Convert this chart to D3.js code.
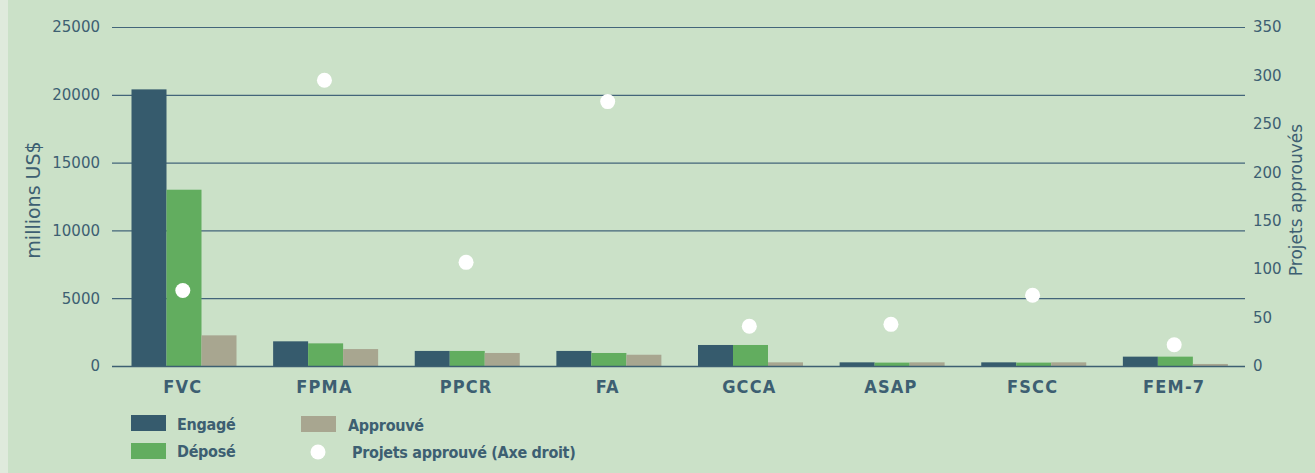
<!DOCTYPE html>
<html>
<head>
<meta charset="utf-8">
<script src="https://cdn.jsdelivr.net/npm/d3@7"></script>
<style>
  body { margin: 0; background: #dfeadc; }
  svg { display: block; }
  .tick text { font-family: "DejaVu Sans", sans-serif; font-size: 15px; fill: #3d5f72; }
  .cat text { font-family: "DejaVu Sans Condensed", "DejaVu Sans", sans-serif; font-stretch: condensed; font-weight: bold; font-size: 18px; letter-spacing: 1.2px; fill: #3d5f72; }
  .legend text { font-family: "DejaVu Sans Condensed", "DejaVu Sans", sans-serif; font-stretch: condensed; font-weight: bold; font-size: 16px; letter-spacing: -0.3px; fill: #3d5f72; }
</style>
</head>
<body>
<div class="chart"></div>
<script>
var svgWidth = 1315;
var svgHeight = 473;

// data
var categories = ["FVC", "FPMA", "PPCR", "FA", "GCCA", "ASAP", "FSCC", "FEM-7"];
var engage = [20400, 1820, 1110, 1110, 1550, 270, 270, 690];
var depose = [13000, 1670, 1110, 960, 1550, 250, 250, 690];
var approuve = [2260, 1250, 960, 830, 270, 270, 270, 150];
var projets = [78, 295, 107, 273, 41, 43, 73, 22];
var leftTicks = [0, 5000, 10000, 15000, 20000, 25000];
var rightTicks = [0, 50, 100, 150, 200, 250, 300, 350];

var seriesNames = ["Engagé", "Déposé", "Approuvé"];
var seriesColors = ["#365b6d", "#62ad5f", "#a8a690"];

var margin = { top: 27, left: 112, right: 70, bottom: 107 };
var width = svgWidth - margin.left - margin.right;
var height = svgHeight - margin.top - margin.bottom;

var svg = d3.select(".chart")
  .append("svg")
  .attr("width", svgWidth)
  .attr("height", svgHeight);

// background panel
svg.append("rect")
  .attr("x", 8)
  .attr("y", 0)
  .attr("width", svgWidth - 8)
  .attr("height", svgHeight)
  .attr("fill", "#cbe1c8");

var chartGroup = svg.append("g")
  .attr("transform", `translate(${margin.left}, ${margin.top})`);

var xScale = d3.scaleBand()
  .domain(categories)
  .range([0, width])
  .padding(0);

var xInner = d3.scaleBand()
  .domain(seriesNames)
  .range([19.5, 124.5])
  .padding(0);

var yLeft = d3.scaleLinear()
  .domain([0, 25000])
  .range([height, 0]);

var yRight = d3.scaleLinear()
  .domain([0, 350])
  .range([height, 0]);

// grid lines from left axis
chartGroup.append("g")
  .selectAll("line")
  .data(leftTicks)
  .enter()
  .append("line")
  .attr("x1", 0)
  .attr("x2", width)
  .attr("y1", d => yLeft(d) + 0.5)
  .attr("y2", d => yLeft(d) + 0.5)
  .attr("stroke", "#43657a")
  .attr("stroke-width", 1.2);

// left axis
var leftAxis = d3.axisLeft(yLeft).tickValues(leftTicks).tickFormat(d3.format("d")).tickSize(0).tickPadding(12);
chartGroup.append("g")
  .call(leftAxis)
  .call(g => g.select(".domain").remove());

// right axis
var rightAxis = d3.axisRight(yRight).tickValues(rightTicks).tickFormat(d3.format("d")).tickSize(0).tickPadding(8);
chartGroup.append("g")
  .attr("transform", `translate(${width}, 0)`)
  .call(rightAxis)
  .call(g => g.select(".domain").remove());

// bars
var table = categories.map((c, i) => ({
  cat: c,
  vals: [engage[i], depose[i], approuve[i]]
}));

var groups = chartGroup.selectAll(".grp")
  .data(table)
  .enter()
  .append("g")
  .attr("transform", d => `translate(${xScale(d.cat)}, 0)`);

groups.selectAll("rect")
  .data(d => d.vals.map((v, j) => ({ name: seriesNames[j], v: v, color: seriesColors[j] })))
  .enter()
  .append("rect")
  .attr("x", d => xInner(d.name))
  .attr("width", xInner.bandwidth())
  .attr("y", d => yLeft(d.v))
  .attr("height", d => height - yLeft(d.v))
  .attr("fill", d => d.color);

// baseline over bars
chartGroup.append("line")
  .attr("x1", 0)
  .attr("x2", width)
  .attr("y1", height + 0.5)
  .attr("y2", height + 0.5)
  .attr("stroke", "#3d5f72")
  .attr("stroke-width", 1.5);

// dots on right axis
chartGroup.selectAll(".dot")
  .data(projets)
  .enter()
  .append("circle")
  .attr("cx", (d, i) => xScale(categories[i]) + xScale.bandwidth() / 2)
  .attr("cy", d => yRight(d))
  .attr("r", 7.5)
  .attr("fill", "#ffffff");

// category labels
var bottomAxis = d3.axisBottom(xScale).tickSize(0).tickPadding(14);
chartGroup.append("g")
  .attr("class", "cat")
  .attr("transform", `translate(0, ${height})`)
  .call(bottomAxis)
  .call(g => g.select(".domain").remove())
  .selectAll("text")
  .attr("class", null);

chartGroup.select(".cat").attr("font-size", null).attr("font-family", null);

// axis titles
svg.append("text")
  .attr("transform", "translate(40, 200) rotate(-90)")
  .attr("text-anchor", "middle")
  .attr("font-family", "DejaVu Sans, sans-serif")
  .attr("font-size", 19)
  .attr("fill", "#3d5f72")
  .text("millions US$");

svg.append("text")
  .attr("transform", "translate(1302, 200) rotate(-90)")
  .attr("text-anchor", "middle")
  .attr("font-family", "DejaVu Sans, sans-serif")
  .attr("font-size", 17)
  .attr("fill", "#3d5f72")
  .text("Projets approuvés");

// legend
var legend = svg.append("g").attr("class", "legend");
var legendItems = [
  { label: "Engagé", color: seriesColors[0], x: 131, y: 415, tx: 177, ty: 430 },
  { label: "Déposé", color: seriesColors[1], x: 131, y: 443, tx: 177, ty: 457 },
  { label: "Approuvé", color: seriesColors[2], x: 301, y: 416, tx: 348, ty: 431 }
];
legendItems.forEach(function(d) {
  legend.append("rect")
    .attr("x", d.x).attr("y", d.y)
    .attr("width", 35).attr("height", 16)
    .attr("fill", d.color);
  legend.append("text")
    .attr("x", d.tx).attr("y", d.ty)
    .text(d.label);
});
legend.append("circle")
  .attr("cx", 318).attr("cy", 452).attr("r", 7.5)
  .attr("fill", "#ffffff");
legend.append("text")
  .attr("x", 352).attr("y", 458)
  .text("Projets approuvé (Axe droit)");
</script>
</body>
</html>
